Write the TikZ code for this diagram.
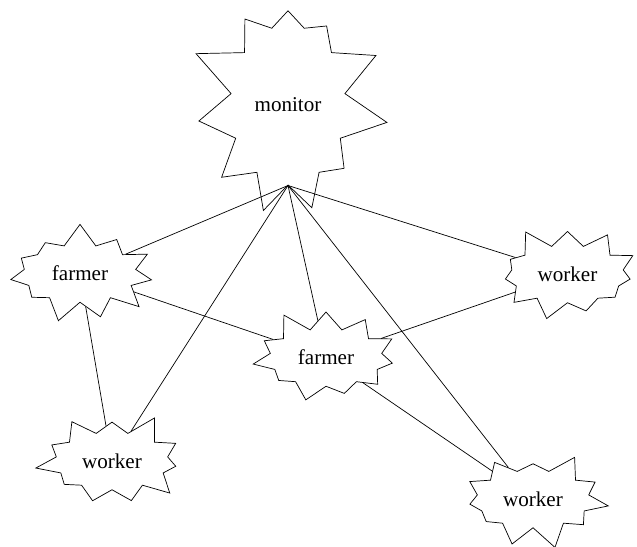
\documentclass[tikz,border=0pt]{standalone}
\usepackage{fontspec}
\setmainfont{Liberation Serif}
\usetikzlibrary{shapes.symbols}

\tikzset{
	burst/.style={draw,starburst,starburst points=11,inner sep=0pt,font=\fontsize{12}{14}\selectfont},
	small burst/.style={burst,starburst point height=0.45cm,minimum width=3.15cm,minimum height=2.05cm}
}

\begin{document}
\begin{tikzpicture}
			\useasboundingbox (0,0) rectangle (12.74,-10.92);
			\node[burst,random starburst=3,starburst point height=0.9cm,shape border rotate=16.36,minimum width=4.1cm,minimum height=5cm] (monitor) at (5.76,-2.1) {monitor};
			\node[small burst,random starburst=7] (farmerA) at (1.6,-5.47) {farmer};
			\node[small burst,random starburst=11] (farmerB) at (6.52,-7.15) {farmer};
			\node[small burst,random starburst=5] (workerA) at (11.35,-5.48) {worker};
			\node[small burst,random starburst=9] (workerB) at (2.24,-9.22) {worker};
			\node[small burst,random starburst=13] (workerC) at (10.66,-9.98) {worker};
			\draw (monitor.south) -- (farmerA);
			\draw (monitor.south) -- (workerA);
			\draw (monitor.south) -- (farmerB);
			\draw (monitor.south) -- (workerB);
			\draw (monitor.south) -- (workerC);
			\draw (farmerA) -- (farmerB);
			\draw (farmerA) -- (workerB);
			\draw (farmerB) -- (workerA);
			\draw (farmerB) -- (workerC);
		\end{tikzpicture}
\end{document}
